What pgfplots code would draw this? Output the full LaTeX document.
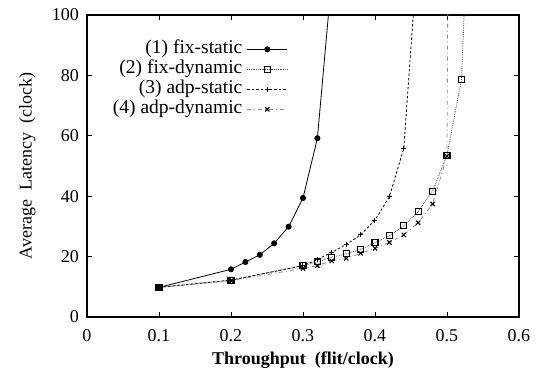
\documentclass[border=0pt]{standalone}
\usepackage{fontspec}
\setmainfont{Liberation Serif}
\usepackage{pgfplots}
\pgfplotsset{compat=1.18}
\begin{document}
\fontsize{18pt}{21pt}\selectfont
\begin{tikzpicture}
\begin{axis}[
  name=ax,
  at={(0,0)}, anchor=south west,
  scale only axis, width=432pt, height=302pt,
  xmin=0, xmax=0.6, ymin=0, ymax=100,
  xtick={0,0.1,...,0.6}, ytick={0,20,...,100},
  xticklabels={0,0.1,0.2,0.3,0.4,0.5,0.6},
  tick align=inside, major tick length=5pt,
  tick style={line width=0.8pt, black},
  axis line style={line width=1.2pt},
  /pgf/number format/assume math mode=true,
  tick label style={font=\fontsize{18pt}{21pt}\selectfont},
  xticklabel style={yshift=-6pt},
  yticklabel style={xshift=-2pt},
  xlabel={\textbf{Throughput\ \ (flit/clock)}},
  ylabel={Average\ \ Latency\ \ (clock)},
  label style={font=\fontsize{18pt}{21pt}\selectfont},
  xlabel style={yshift=2pt},
  ylabel style={yshift=4pt},
  legend plot pos=right,
  legend cell align=right,
  legend style={draw=none, fill=none, at={(rel axis cs:0.465,0.92)}, anchor=north east,
    font=\fontsize{19.5pt}{21pt}\selectfont, row sep=0pt, inner sep=0pt,
    nodes={inner xsep=4.5pt, inner ysep=0pt, text height=14pt, text depth=6pt}},
  legend image code/.code={\draw[mark repeat=2,mark phase=2,#1] plot coordinates {(0pt,0pt) (20pt,0pt) (40pt,0pt)};},
]
\addplot[black, line width=0.8pt, mark=*, mark size=2.6pt] coordinates {
 (0.1,9.8) (0.2,15.8) (0.22,18.2) (0.24,20.6) (0.26,24.4) (0.28,29.9) (0.30,39.4) (0.32,59.2) (0.34,112.5)};
\addlegendentry{(1) fix-static}
\addplot[black!70, line width=0.8pt, densely dotted, mark=square, mark size=3pt, mark options={solid, black, line width=1.1pt}] coordinates {
 (0.1,9.8) (0.2,12.2) (0.30,17.0) (0.32,18.3) (0.34,19.8) (0.36,20.9) (0.38,22.4) (0.40,24.6) (0.42,26.9) (0.44,30.2) (0.46,34.9) (0.48,41.7) (0.50,53.6) (0.52,78.5) (0.53,136)};
\addlegendentry{(2) fix-dynamic}
\addplot[black, line width=0.8pt, dash pattern=on 2.5pt off 2pt, mark=+, mark size=2.5pt, mark options={solid, line width=1pt}] coordinates {
 (0.1,9.8) (0.2,12.2) (0.30,17.0) (0.32,19.0) (0.34,21.4) (0.36,24.0) (0.38,27.2) (0.40,32.1) (0.42,39.8) (0.44,55.9) (0.46,123)};
\addlegendentry{(3) adp-static}
\addplot[black!45, line width=0.8pt, dash pattern=on 4pt off 3pt on 1pt off 3pt, mark=x, mark size=3pt, mark options={solid, black, line width=1.1pt}] coordinates {
 (0.1,9.8) (0.2,12.0) (0.30,16.1) (0.32,17.0) (0.34,18.6) (0.36,19.4) (0.38,21.1) (0.40,22.7) (0.42,24.7) (0.44,27.2) (0.46,31.2) (0.48,37.4) (0.50,53.3) (0.502,150)};
\addlegendentry{(4) adp-dynamic}
\end{axis}
\pgfresetboundingbox
\path[use as bounding box] (-87pt,-55pt) rectangle (457pt,317pt);
\end{tikzpicture}
\end{document}
